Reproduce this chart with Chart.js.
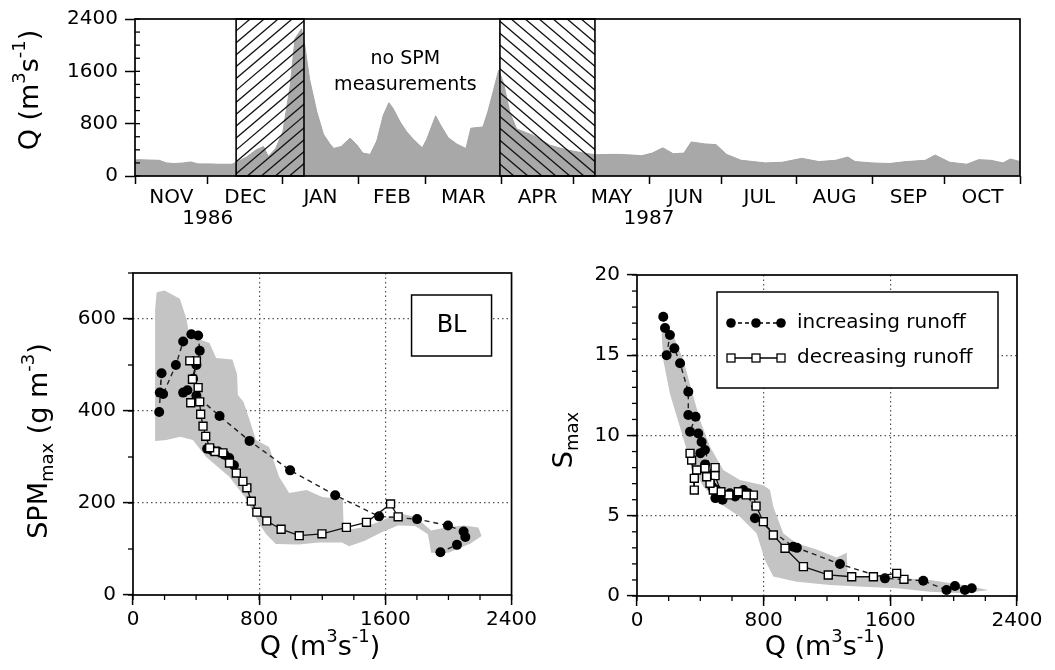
<!DOCTYPE html>
<html>
<head>
<meta charset="utf-8">
<script src="https://cdn.jsdelivr.net/npm/chart.js@4.4.1/dist/chart.umd.min.js"></script>
<style>
  body { margin: 0; background: #fff; width: 1055px; height: 670px; overflow: hidden; position: relative; }
  canvas { position: absolute; }
</style>
</head>
<body>
<canvas id="runoffChart" width="1055" height="240" style="left:0;top:0;width:1055px;height:240px"></canvas>
<canvas id="spmChart" width="540" height="430" style="left:0;top:240px;width:540px;height:430px"></canvas>
<canvas id="salChart" width="515" height="430" style="left:540px;top:240px;width:515px;height:430px"></canvas>
<script>
// ---- top panel: river runoff, day 0 = 1 Nov 1986 ----
const qDays = [0, 1, 5, 10, 13, 16, 20, 23, 26, 30, 35, 40, 43, 46, 50, 53, 55, 58, 61, 64, 66, 68.7, 70, 72, 75, 77.7, 80.4, 82,
  85, 88.7, 91.4, 94, 97, 99.7, 102.4, 104.7, 106.5, 109.3, 112, 114.8, 118.5, 120.3, 124, 126, 129.2, 132.7, 136.5, 138.5,
  143.5, 145.5, 147.8, 150, 152, 154.6, 157.4, 164.3, 171.2, 178, 185, 190, 195, 200, 205, 209, 213.3, 217.7, 222, 226.4,
  229.4, 235.2, 239.6, 244, 250, 255, 260, 267, 275, 282, 289, 294, 297, 304, 311, 318, 326, 330, 336, 343, 348, 353, 358, 361, 365];
const qValues = [240, 250, 245, 240, 200, 190, 200, 215, 185, 185, 180, 180, 230, 290, 400, 450, 300, 420, 680, 1380, 2100, 2250, 2000, 1480, 980, 640, 490, 422,
  450, 580, 480, 350, 330, 535, 930, 1120, 1030, 830, 680, 560, 430, 560, 920, 780, 585, 490, 420, 730,
  750, 980, 1300, 1620, 1420, 970, 720, 620, 470, 400, 350, 325, 330, 330, 320, 310, 350, 430, 340, 350,
  520, 490, 480, 330, 240, 220, 200, 210, 270, 220, 240, 290, 220, 200, 190, 220, 240, 320, 210, 180, 250, 240, 200, 260, 220];
const monthStarts = [0, 30, 61, 92, 120, 151, 181, 212, 242, 273, 304, 334, 365];
const monthNames = ["NOV", "DEC", "JAN", "FEB", "MAR", "APR", "MAY", "JUN", "JUL", "AUG", "SEP", "OCT"];
const yearLabels = { 30: "1986", 212: "1987" };
const gapPeriods = [[41.7, 69.7], [150.5, 189.7]];
const qTicks = [0, 800, 1600, 2400];

// ---- bottom panels: Q on x ----
const runoffTicks = [0, 800, 1600, 2400];
const spmTicks = [0, 200, 400, 600];
const salTicks = [0, 5, 10, 15, 20];

// SPMmax envelope (closed outline)
const spmBandQ = [140, 140, 150, 200, 297, 339, 360, 420, 485, 527, 630, 660, 665, 700, 740, 779, 863, 926, 990, 1100, 1200, 1330, 1336,
  1470, 1580, 1680, 1790, 1890, 2000, 2100, 2190, 2210, 2140, 2000, 1890, 1870, 1790, 1680, 1580, 1470, 1370, 1325, 1180, 1050,
  905, 842, 800, 716, 611, 464, 380, 300, 212, 140];
const spmBandValues = [335, 620, 658, 662, 644, 600, 560, 556, 548, 515, 512, 480, 435, 420, 380, 337, 322, 257, 222, 228, 213, 208, 140,
  148, 162, 178, 170, 140, 148, 151, 147, 128, 112, 92, 92, 132, 150, 151, 137, 118, 106, 114, 114, 110,
  111, 133, 155, 210, 257, 300, 337, 344, 337, 335];

// SPMmax, increasing runoff (null breaks the dashed line)
const spmIncQ = [166, 181, 170, 191, 272, 318, 370, 413, 423, 402, 381, 345, 318, 402, 549, 739, 996, 1282, 1560, 1801, 1997, 2096, 2107, 2054, 1949,
  null, 470, 500, 540, 580, 610, 640];
const spmIncValues = [398, 482, 440, 437, 500, 551, 567, 564, 531, 500, 470, 445, 440, 433, 389, 335, 271, 217, 171, 165, 151, 138, 126, 109, 93,
  null, 318, 315, 312, 305, 298, 282];

// SPMmax, decreasing runoff
const spmDecQ = [1681, 1633, 1480, 1353, 1198, 1054, 939, 848, 785, 750, 722, 697, 655, 612, 570, 520, 486, 461, 444, 429, 423, 366, 413, 377, 402, 360];
const spmDecValues = [170, 198, 158, 147, 133, 129, 143, 161, 180, 204, 233, 247, 265, 287, 309, 312, 320, 345, 367, 393, 420, 418, 451, 469, 509, 509];

// Smax envelope (closed outline)
const salBandQ = [156, 156, 230, 293, 345, 398, 461, 545, 650, 798, 840, 861, 924, 1008, 1135, 1261, 1325, 1330, 1535, 1850, 2061, 2219,
  2061, 1850, 1640, 1430, 1219, 1008, 861, 808, 756, 650, 524, 419, 335, 272, 208, 166, 156];
const salBandValues = [16.2, 16.8, 16.2, 14.7, 12.8, 10.97, 9.3, 7.85, 7.23, 6.9, 6.6, 5.56, 3.9, 3.28, 2.9, 2.4, 2.7, 1.21, 1.21, 1.0, 0.68, 0.37,
  0.17, 0.27, 0.48, 0.58, 0.68, 0.89, 1.21, 2.24, 3.9, 4.93, 5.76, 6.8, 8.43, 10.5, 12.6, 14.7, 16.2];

// Smax, increasing runoff
const salIncQ = [166, 177, 208, 187, 236, 272, 324, 324, 370, 335, 387, 408, 429, 503, 524, 587, 672, 703, 745, 987, 1010, 1282, 1566, 1808, 1955, 2008, 2071, 2114,
  null, 400, 430, 455, 475, 495, 540, 620, 660];
const salIncValues = [17.4, 16.7, 16.26, 15.0, 15.43, 14.5, 12.73, 11.28, 11.17, 10.24, 10.13, 9.6, 9.1, 6.6, 6.19, 6.4, 6.6, 6.4, 4.84, 3.07, 3.0, 1.99, 1.1, 0.95, 0.37, 0.62, 0.37, 0.48,
  null, 8.9, 8.2, 7.5, 6.8, 6.1, 6.0, 6.2, 6.4];

// Smax, decreasing runoff
const salDecQ = [1686, 1640, 1493, 1356, 1208, 1051, 935, 861, 798, 752, 735, 690, 640, 580, 530, 493, 493, 482, 461, 440, 429, 377, 362, 362, 345, 335];
const salDecValues = [1.04, 1.41, 1.2, 1.2, 1.31, 1.83, 2.97, 3.8, 4.63, 5.6, 6.29, 6.3, 6.5, 6.3, 6.5, 7.5, 8.0, 6.6, 7.02, 7.43, 7.96, 7.85, 7.33, 6.6, 8.47, 8.89];

const FONT = "'DejaVu Sans', sans-serif";
Chart.defaults.font.family = FONT;
Chart.defaults.color = "#000";

const toPoints = (xs, ys) => xs.map((x, i) => ({ x: x, y: ys[i] }));
const midMonths = monthNames.map((m, i) => (monthStarts[i] + monthStarts[i + 1]) / 2);
const plainNumber = v => String(v);

// draw text with sub/superscripts, centred at (x, y)
function drawRich(ctx, parts, x, y, size, rotate) {
  ctx.save();
  ctx.translate(x, y);
  if (rotate) ctx.rotate(-Math.PI / 2);
  ctx.fillStyle = "#000";
  ctx.textBaseline = "middle";
  ctx.textAlign = "left";
  const small = Math.round(size * 0.65);
  let total = 0;
  parts.forEach(p => {
    ctx.font = (p.sub || p.sup ? small : size) + "px " + FONT;
    p.w = ctx.measureText(p.t).width;
    total += p.w;
  });
  let cx = -total / 2;
  parts.forEach(p => {
    ctx.font = (p.sub || p.sup ? small : size) + "px " + FONT;
    const dy = p.sup ? -size * 0.4 : (p.sub ? size * 0.3 : 0);
    ctx.fillText(p.t, cx, dy);
    cx += p.w;
  });
  ctx.restore();
}

const qTitle = [{ t: "Q (m" }, { t: "3", sup: true }, { t: "s" }, { t: "-1", sup: true }, { t: ")" }];

// frame + minor ticks
const panelFrame = {
  id: "panelFrame",
  afterDraw(chart, args, opts) {
    const ctx = chart.ctx;
    const a = chart.chartArea;
    ctx.save();
    ctx.strokeStyle = "#000";
    ctx.lineWidth = 1.3;
    ["x", "y"].forEach(id => {
      const o = opts[id];
      if (!o) return;
      const s = chart.scales[id];
      for (let v = s.min; v <= s.max + 1e-9; v += o.step) {
        const p = s.getPixelForValue(v);
        ctx.beginPath();
        if (id === "x") {
          ctx.moveTo(p, a.bottom);
          ctx.lineTo(p, a.bottom + (o.inward ? -o.len : o.len));
        } else {
          ctx.moveTo(a.left, p);
          ctx.lineTo(a.left + (o.inward ? o.len : -o.len), p);
        }
        ctx.stroke();
      }
    });
    ctx.lineWidth = 1.7;
    ctx.strokeRect(a.left, a.top, a.width, a.height);
    ctx.restore();
    (opts.titles || []).forEach(t => drawRich(ctx, t.parts, t.x, t.y, t.size, t.rotate));
  }
};

// hatched "no SPM" periods
const hatchGaps = {
  id: "hatchGaps",
  afterDatasetsDraw(chart) {
    const ctx = chart.ctx;
    const a = chart.chartArea;
    const xs = chart.scales.x;
    ctx.save();
    gapPeriods.forEach((g, i) => {
      const x0 = xs.getPixelForValue(g[0]);
      const x1 = xs.getPixelForValue(g[1]);
      ctx.save();
      ctx.beginPath();
      ctx.rect(x0, a.top, x1 - x0, a.height);
      ctx.clip();
      ctx.strokeStyle = "#111";
      ctx.lineWidth = 1.3;
      const h = a.height;
      const run = h / 0.85;
      for (let x = x0 - run; x < x1 + run; x += 14) {
        ctx.beginPath();
        if (i === 0) { ctx.moveTo(x, a.bottom); ctx.lineTo(x + run, a.top); }
        else { ctx.moveTo(x, a.top); ctx.lineTo(x + run, a.bottom); }
        ctx.stroke();
      }
      ctx.restore();
      ctx.lineWidth = 1.6;
      ctx.strokeStyle = "#000";
      ctx.strokeRect(x0, a.top, x1 - x0, h);
    });
    ctx.font = "19px " + FONT;
    ctx.fillStyle = "#000";
    ctx.textAlign = "center";
    ctx.textBaseline = "middle";
    const cx = xs.getPixelForValue(111.5);
    ctx.fillText("no SPM", cx, a.top + 40);
    ctx.fillText("measurements", cx, a.top + 66);
    ctx.restore();
  }
};

new Chart(document.getElementById("runoffChart"), {
  type: "line",
  data: {
    datasets: [{
      data: toPoints(qDays, qValues),
      borderColor: "#a4a4a4",
      borderWidth: 1,
      backgroundColor: "#a8a8a8",
      fill: "origin",
      pointRadius: 0,
      tension: 0
    }]
  },
  options: {
    responsive: false,
    animation: false,
    devicePixelRatio: 1,
    layout: { padding: { left: 0, right: 35, top: 15, bottom: 0 } },
    plugins: {
      legend: { display: false },
      tooltip: { enabled: false },
      panelFrame: {
        y: { step: 200, len: 5, inward: true },
        titles: [{ parts: qTitle, x: 31, y: 90, size: 27, rotate: true }]
      }
    },
    scales: {
      x: {
        type: "linear", min: 0, max: 365,
        afterBuildTicks: s => {
          s.ticks = monthStarts.concat(midMonths).sort((a, b) => a - b).map(v => ({ value: v }));
        },
        afterFit: s => { s.height = 64; },
        grid: {
          drawOnChartArea: false, tickLength: 8, tickWidth: 1.5,
          tickColor: c => monthStarts.includes(c.tick.value) ? "#000" : "rgba(0,0,0,0)"
        },
        border: { display: false },
        ticks: {
          autoSkip: false, maxRotation: 0, padding: 3,
          font: { size: 20, lineHeight: 1.05 },
          callback: v => {
            const i = midMonths.indexOf(v);
            if (i >= 0) return monthNames[i];
            if (yearLabels[v]) return ["", yearLabels[v]];
            return "";
          }
        }
      },
      y: {
        min: 0, max: 2400,
        afterBuildTicks: s => { s.ticks = qTicks.map(v => ({ value: v })); },
        afterFit: s => { s.width = 135; },
        grid: { drawOnChartArea: false, tickLength: 10, tickWidth: 1.5, tickColor: "#000" },
        border: { display: false },
        ticks: { padding: 7, font: { size: 20 }, callback: plainNumber }
      }
    }
  },
  plugins: [panelFrame, hatchGaps]
});

// "BL" box and the legend box
const panelNote = {
  id: "panelNote",
  afterDraw(chart, args, opts) {
    if (!opts || !opts.kind) return;
    const ctx = chart.ctx;
    const a = chart.chartArea;
    ctx.save();
    ctx.strokeStyle = "#000";
    ctx.fillStyle = "#000";
    ctx.lineWidth = 1.5;
    if (opts.kind === "label") {
      const x = a.right - 100, y = a.top + 22;
      ctx.fillStyle = "#fff";
      ctx.fillRect(x, y, 80, 61);
      ctx.strokeRect(x, y, 80, 61);
      ctx.fillStyle = "#000";
      ctx.font = "24px " + FONT;
      ctx.textAlign = "center";
      ctx.textBaseline = "middle";
      ctx.fillText(opts.text, x + 40, y + 31);
    } else {
      const x = a.left + 80, y = a.top + 17, w = a.right - 19 - x, h = 96;
      ctx.fillStyle = "#fff";
      ctx.fillRect(x, y, w, h);
      ctx.strokeRect(x, y, w, h);
      const rows = [y + 31, y + 66];
      const mx = [x + 14, x + 39, x + 64];
      // row 1: filled circles, dashed
      ctx.lineWidth = 1.3;
      ctx.setLineDash([4, 3]);
      ctx.beginPath(); ctx.moveTo(mx[0], rows[0]); ctx.lineTo(mx[2], rows[0]); ctx.stroke();
      ctx.setLineDash([]);
      mx.forEach(m => { ctx.fillStyle = "#000"; ctx.beginPath(); ctx.arc(m, rows[0], 4.8, 0, Math.PI * 2); ctx.fill(); });
      // row 2: open squares, solid
      ctx.beginPath(); ctx.moveTo(mx[0], rows[1]); ctx.lineTo(mx[2], rows[1]); ctx.stroke();
      mx.forEach(m => { ctx.fillStyle = "#fff"; ctx.fillRect(m - 4, rows[1] - 4, 8, 8); ctx.strokeRect(m - 4, rows[1] - 4, 8, 8); });
      ctx.fillStyle = "#000";
      ctx.font = "20px " + FONT;
      ctx.textAlign = "left";
      ctx.textBaseline = "middle";
      ctx.fillText("increasing runoff", x + 80, rows[0]);
      ctx.fillText("decreasing runoff", x + 80, rows[1]);
    }
    ctx.restore();
  }
};

function scatterPanel(canvasId, band, inc, dec, yMax, yTicks, yMinor, yPad, extra) {
  return new Chart(document.getElementById(canvasId), {
    type: "scatter",
    data: {
      datasets: [
        {
          label: "decreasing runoff",
          data: dec,
          showLine: true,
          borderColor: "#111",
          borderWidth: 1.3,
          pointStyle: "rect",
          pointRadius: 5.6,
          pointBackgroundColor: "#fff",
          pointBorderColor: "#000",
          pointBorderWidth: 1.4
        },
        {
          label: "increasing runoff",
          data: inc,
          showLine: true,
          borderColor: "#222",
          borderWidth: 1.4,
          borderDash: [5, 4],
          pointStyle: "circle",
          pointRadius: 5,
          pointBackgroundColor: "#000",
          pointBorderColor: "#000",
          pointBorderWidth: 0
        },
        {
          label: "range",
          type: "line",
          data: band,
          borderWidth: 0,
          borderColor: "rgba(0,0,0,0)",
          backgroundColor: "#c4c4c4",
          fill: "shape",
          pointRadius: 0,
          tension: 0
        }
      ]
    },
    options: {
      responsive: false,
      animation: false,
      devicePixelRatio: 1,
      layout: { padding: yPad },
      plugins: {
        legend: { display: false },
        tooltip: { enabled: false },
        panelFrame: {
          x: { step: 200, len: 5 },
          y: { step: yMinor, len: 5 },
          titles: extra.titles
        },
        panelNote: extra.note
      },
      scales: {
        x: {
          type: "linear", min: 0, max: 2400,
          afterBuildTicks: s => { s.ticks = runoffTicks.map(v => ({ value: v })); },
          afterFit: s => { s.height = extra.xHeight; },
          grid: {
            color: c => (c.tick && c.tick.value > 0 && c.tick.value < 2400) ? "#555" : "rgba(0,0,0,0)",
            lineWidth: 1.2, tickLength: 10, tickWidth: 1.5, tickColor: "#000"
          },
          border: { display: false, dash: [1.5, 3] },
          ticks: { padding: 3, font: { size: 20 }, callback: plainNumber }
        },
        y: {
          min: 0, max: yMax,
          afterBuildTicks: s => { s.ticks = yTicks.map(v => ({ value: v })); },
          afterFit: s => { s.width = extra.yWidth; },
          grid: {
            color: c => (c.tick && c.tick.value > 0 && c.tick.value < yMax) ? "#555" : "rgba(0,0,0,0)",
            lineWidth: 1.2, tickLength: 10, tickWidth: 1.5, tickColor: "#000"
          },
          border: { display: false, dash: [1.5, 3] },
          ticks: { padding: 7, font: { size: 20 }, callback: plainNumber }
        }
      }
    },
    plugins: [panelFrame, panelNote]
  });
}

scatterPanel("spmChart",
  toPoints(spmBandQ, spmBandValues), toPoints(spmIncQ, spmIncValues), toPoints(spmDecQ, spmDecValues),
  700, spmTicks, 100, { left: 0, right: 27, top: 33, bottom: 0 },
  {
    xHeight: 75, yWidth: 133,
    note: { kind: "label", text: "BL" },
    titles: [
      { parts: [{ t: "SPM" }, { t: "max", sub: true }, { t: " (g m" }, { t: "-3", sup: true }, { t: ")" }], x: 40, y: 201, size: 27, rotate: true },
      { parts: qTitle, x: 320, y: 408, size: 27 }
    ]
  });

scatterPanel("salChart",
  toPoints(salBandQ, salBandValues), toPoints(salIncQ, salIncValues), toPoints(salDecQ, salDecValues),
  20, salTicks, 1, { left: 0, right: 38, top: 35, bottom: 0 },
  {
    xHeight: 74, yWidth: 97,
    note: { kind: "legend" },
    titles: [
      { parts: [{ t: "S" }, { t: "max", sub: true }], x: 25, y: 200, size: 27, rotate: true },
      { parts: qTitle, x: 285, y: 408, size: 27 }
    ]
  });
</script>
</body>
</html>
